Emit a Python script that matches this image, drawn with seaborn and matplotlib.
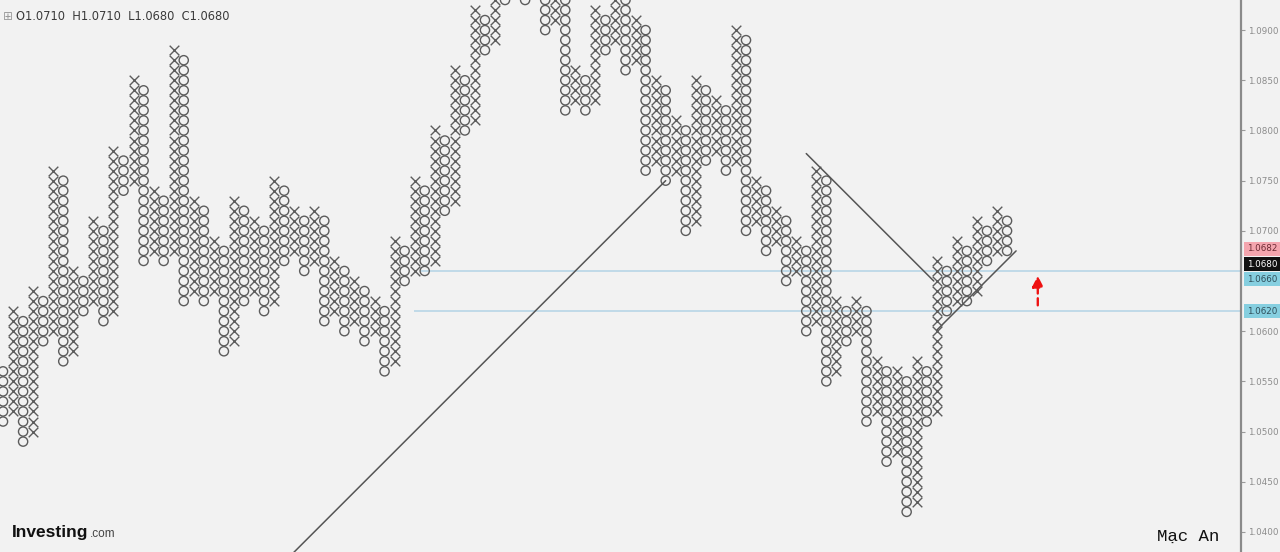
import seaborn as sns
from matplotlib import pyplot as plt
import numpy as np
import pandas as pd

# point & figure columns, box size 0.001 (levels in pips*10 above 1.000)
col_type = ['O', 'X'] * 50 + ['O']
col_top = [56, 62, 61, 64, 63, 76, 75, 66, 65, 71, 70, 78, 77, 85, 84, 74, 73, 88, 87, 73,
           72, 69, 68, 73, 72, 71, 70, 75, 74, 72, 71, 72, 71, 67, 66, 65, 64, 63, 62, 69,
           68, 75, 74, 80, 79, 86, 85, 92, 91, 95, 94, 96, 95, 96, 95, 94, 93, 86, 85, 92,
           91, 94, 93, 91, 90, 85, 84, 81, 80, 85, 84, 83, 82, 90, 89, 75, 74, 72, 71, 69,
           68, 76, 75, 63, 62, 63, 62, 57, 56, 56, 55, 57, 56, 67, 66, 69, 68, 71, 70, 72, 71]
col_bottom = [51, 52, 49, 50, 59, 60, 57, 58, 62, 63, 61, 62, 74, 75, 67, 68, 67, 68, 63, 64,
              63, 64, 58, 59, 63, 64, 62, 63, 67, 68, 66, 67, 61, 62, 60, 61, 59, 60, 56, 57,
              65, 66, 66, 67, 72, 73, 80, 81, 88, 89, 93, 94, 93, 94, 90, 91, 82, 83, 82, 83,
              88, 89, 86, 87, 76, 77, 75, 76, 70, 71, 77, 78, 76, 77, 70, 71, 68, 69, 65, 66,
              60, 61, 55, 56, 59, 60, 51, 52, 47, 48, 42, 43, 51, 52, 62, 63, 63, 64, 67, 68, 68]

yticks = [1.040, 1.045, 1.050, 1.055, 1.060, 1.070, 1.075, 1.080, 1.085, 1.090]
levels = [1.0660, 1.0620]
header = 'O1.0710  H1.0710  L1.0680  C1.0680'

rows = []
for i, (t, hi, lo) in enumerate(zip(col_type, col_top, col_bottom)):
    for k in range(lo, hi + 1):
        rows.append({'col': i, 'price': 1 + k / 1000, 'kind': t})
boxes = pd.DataFrame(rows)

sns.set_theme(style='white', rc={'axes.facecolor': '#f2f2f2', 'figure.facecolor': '#f2f2f2'})
plt.rcParams['font.family'] = ['DejaVu Sans']

fig = plt.figure(figsize=(12.8, 5.52), dpi=100)
ax = fig.add_axes([0, 0, 1241 / 1280, 1])

mark = '#5c5c5c'
sns.scatterplot(data=boxes[boxes.kind == 'X'], x='col', y='price', marker='x', s=48,
                color=mark, linewidth=1.0, ax=ax, zorder=3)
sns.scatterplot(data=boxes[boxes.kind == 'O'], x='col', y='price', marker='o', s=44,
                facecolors='none', edgecolors=mark, linewidths=1.0, ax=ax, zorder=3)

# support / resistance levels
ax.hlines(levels[0], 41.5, 130, color='#b3d3e6', lw=1.1, zorder=1)
ax.hlines(levels[1], 40.9, 130, color='#b3d3e6', lw=1.1, zorder=1)

# 45 degree trend lines
ax.plot([20, 66], [1.029, 1.075], color='#555555', lw=1.1, zorder=4)
ax.plot([80, 92.7], [1.0777, 1.0650], color='#555555', lw=1.1, zorder=4)
ax.plot([93, 100.9], [1.0601, 1.0680], color='#555555', lw=1.1, zorder=4)

# red dashed arrow
ax.annotate('', xy=(103.06, 1.0658), xytext=(103.06, 1.0623),
            arrowprops=dict(arrowstyle='-|>,head_width=0.28,head_length=0.55', color='#ee1111',
                            lw=1.7, ls=(0, (3, 2))), zorder=5)

ax.set_xlim(-0.3, 123.3)
ax.set_ylim(1.0380, 1.0930)
ax.set_xlabel('')
ax.set_ylabel('')
ax.set_xticks([])
for s in ['top', 'left', 'bottom']:
    ax.spines[s].set_visible(False)
ax.spines['right'].set_color('#8a8a8a')
ax.spines['right'].set_linewidth(1.6)
ax.yaxis.tick_right()
ax.set_yticks(yticks)
ax.set_yticklabels(['%.4f' % v for v in yticks])
ax.tick_params(axis='y', direction='out', length=3, width=0.8, color='#999999',
               labelsize=6.3, labelcolor='#8c8c8c', pad=2, right=True)

# price tags on the axis
tags = [('1.0682', 1.0682, '#f4a5ae', '#6b2a33'),
        ('1.0680', 1.06668, '#111111', 'white'),
        ('1.0660', 1.06518, '#86cfe0', '#2f4f5a'),
        ('1.0620', 1.0620, '#86cfe0', '#2f4f5a')]
for lab, yp, fc, tc in tags:
    ax.text(1.0045, yp, lab, transform=ax.get_yaxis_transform(), va='center', ha='left',
            fontsize=6.3, color=tc, clip_on=False,
            bbox=dict(boxstyle='square,pad=0.3', fc=fc, ec='none'))

fig.text(3 / 1280, 1 - 17 / 552, '\u229e', fontsize=8.5, color='#9a9a9a', va='center', ha='left')
fig.text(16 / 1280, 1 - 17 / 552, header, fontsize=8.3, color='#3a3a3a', va='center', ha='left')
fig.text(12 / 1280, 1 - 532 / 552, 'Investing', fontsize=12.5, fontweight='bold',
         family='Liberation Sans', color='#111111', va='center', ha='left')
fig.text(90 / 1280, 1 - 534 / 552, '.com', fontsize=8.5, family='Liberation Sans',
         color='#444444', va='center', ha='left')
fig.text(1157 / 1280, 1 - 536 / 552, 'M\u1ea1c An', fontsize=12.5, family='Liberation Mono',
         color='#111111', va='center', ha='left')

fig.savefig('out.png', dpi=100, facecolor='#f2f2f2')
